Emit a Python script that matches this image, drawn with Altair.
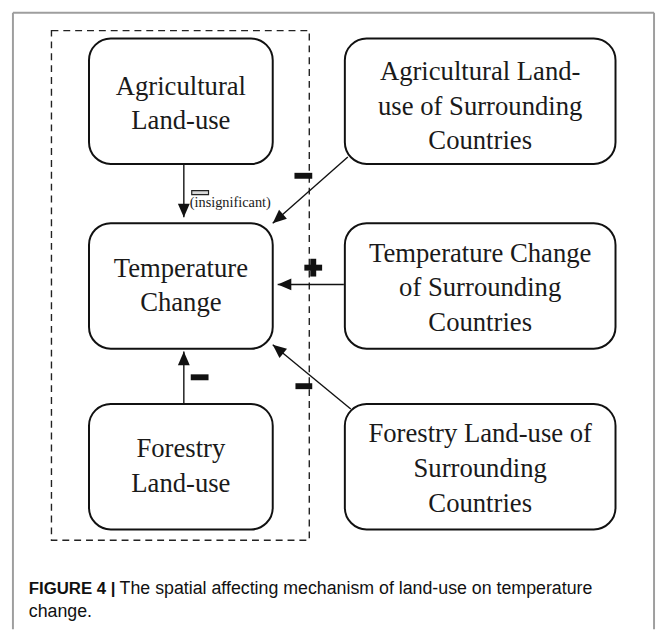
import altair as alt
import pandas as pd
import numpy as np

# ---- Data: boxes (page-pixel coordinates) ----
box_names = ["Agricultural Land-use", "Agricultural Land-use of Surrounding Countries",
             "Temperature Change", "Temperature Change of Surrounding Countries",
             "Forestry Land-use", "Forestry Land-use of Surrounding Countries"]
box_x1 = [90, 349, 90, 349, 90, 349]
box_x2 = [276, 623, 276, 623, 276, 623]
box_y1 = [35, 35, 222, 222, 405, 405]
box_y2 = [162, 162, 349, 349, 532, 532]

# ---- Data: text lines inside boxes ----
label_text = ["Agricultural", "Land-use",
              "Agricultural Land-", "use of Surrounding", "Countries",
              "Temperature", "Change",
              "Temperature Change", "of Surrounding", "Countries",
              "Forestry", "Land-use",
              "Forestry Land-use of", "Surrounding", "Countries"]
label_x = [183, 183,
           486, 486, 486,
           183, 183,
           486, 486, 486,
           183, 183,
           486, 486, 486]
label_y = [84, 119,
           69, 104, 139,
           268, 303,
           253, 288, 323,
           451, 486,
           436, 471, 506]

# ---- Data: arrows (start -> tip) ----
arrow_x1 = [186, 352, 348, 355, 186]
arrow_y1 = [162, 155, 284, 410, 405]
arrow_x2 = [186, 276, 281, 276, 186]
arrow_y2 = [216, 222, 284, 345, 352]

# ---- Data: signs (filled bars) ----
sign_x1 = [298, 193, 299, 308, 314]
sign_x2 = [316, 211, 316, 326, 320]
sign_y1 = [171, 375, 384, 264, 258]
sign_y2 = [177, 381, 390, 270, 276]

# insignificant sign
insig_x1, insig_x2, insig_y1, insig_y2 = [194], [211], [189], [193]

# dashed frame and outer frame
dash_x1, dash_x2, dash_y1, dash_y2 = [52], [313], [27], [543]
frame_x1, frame_x2, frame_y1, frame_y2 = [13], [662], [9], [633]

W, H = 657, 625


def xs(f="x"):
    return alt.X(f"{f}:Q", scale=alt.Scale(domain=[8, 665], nice=False, zero=False), axis=None)


def ys(f="y"):
    return alt.Y(f"{f}:Q", scale=alt.Scale(domain=[8, 633], nice=False, zero=False, reverse=True), axis=None)


frame_df = pd.DataFrame({
    "x": [frame_x1[0], frame_x1[0], frame_x2[0]],
    "x2": [frame_x1[0], frame_x2[0], frame_x2[0]],
    "y": [frame_y1[0], frame_y1[0], frame_y1[0]],
    "y2": [frame_y2[0], frame_y1[0], frame_y2[0]],
})
frame = alt.Chart(frame_df).mark_rule(color="#9e9e9e", strokeWidth=2).encode(
    x=xs("x"), x2="x2:Q", y=ys("y"), y2="y2:Q")

dash_df = pd.DataFrame({"x": dash_x1, "x2": dash_x2, "y": dash_y1, "y2": dash_y2})
dashed = alt.Chart(dash_df).mark_rect(fill=None, fillOpacity=0, stroke="#222", strokeWidth=1.4,
                                      strokeDash=[7, 5]).encode(
    x=xs("x"), x2="x2:Q", y=ys("y"), y2="y2:Q")

box_df = pd.DataFrame({"name": box_names, "x": box_x1, "x2": box_x2, "y": box_y1, "y2": box_y2})
boxes = alt.Chart(box_df).mark_rect(fill="white", stroke="#111", strokeWidth=2, cornerRadius=22).encode(
    x=xs("x"), x2="x2:Q", y=ys("y"), y2="y2:Q")

label_df = pd.DataFrame({"t": label_text, "x": label_x, "y": label_y})
labels = alt.Chart(label_df).mark_text(font="Liberation Serif", fontSize=27, color="#1a1a1a",
                                       baseline="middle", align="center").encode(
    x=xs("x"), y=ys("y"), text="t:N")

arr_df = pd.DataFrame({"x": arrow_x1, "y": arrow_y1, "x2": arrow_x2, "y2": arrow_y2})
dx = np.array(arrow_x2) - np.array(arrow_x1)
dy = np.array(arrow_y2) - np.array(arrow_y1)
arr_df["angle"] = np.mod(np.degrees(np.arctan2(dx, -dy)), 360)
lines = alt.Chart(arr_df).mark_rule(color="#111", strokeWidth=1.4).encode(
    x=xs("x"), y=ys("y"), x2="x2:Q", y2="y2:Q")
heads = alt.Chart(arr_df).mark_point(shape="M0,0L-1,2.3L1,2.3Z", filled=True, fill="#111",
                                     opacity=1, size=144).encode(
    x=xs("x2"), y=ys("y2"), angle=alt.Angle("angle:Q", scale=None))

sign_df = pd.DataFrame({"x": sign_x1, "x2": sign_x2, "y": sign_y1, "y2": sign_y2})
signs = alt.Chart(sign_df).mark_rect(fill="#111").encode(
    x=xs("x"), x2="x2:Q", y=ys("y"), y2="y2:Q")

insig_df = pd.DataFrame({"x": insig_x1, "x2": insig_x2, "y": insig_y1, "y2": insig_y2})
insig = alt.Chart(insig_df).mark_rect(fill="#d8d8d8", stroke="#222", strokeWidth=1.2).encode(
    x=xs("x"), x2="x2:Q", y=ys("y"), y2="y2:Q")

insig_text = alt.Chart(pd.DataFrame({"t": ["(insignificant)"], "x": [192], "y": [202]})).mark_text(
    font="Liberation Serif", fontSize=14.5, color="#1a1a1a", align="left", baseline="middle").encode(
    x=xs("x"), y=ys("y"), text="t:N")

cap_df = pd.DataFrame({
    "t": ["FIGURE 4 |", "The spatial affecting mechanism of land-use on temperature", "change."],
    "x": [29, 121, 29], "y": [597, 597, 621], "w": ["bold", "normal", "normal"]})
cap_bold = alt.Chart(cap_df[cap_df.w == "bold"]).mark_text(
    font="Liberation Sans", fontSize=17, fontWeight="bold", color="#111",
    align="left", baseline="alphabetic").encode(x=xs("x"), y=ys("y"), text="t:N")
cap_reg = alt.Chart(cap_df[cap_df.w == "normal"]).mark_text(
    font="Liberation Sans", fontSize=18, color="#111",
    align="left", baseline="alphabetic").encode(x=xs("x"), y=ys("y"), text="t:N")

chart = alt.layer(frame, dashed, lines, heads, boxes, labels, signs, insig, insig_text,
                  cap_bold, cap_reg).properties(
    width=W, height=H, autosize=alt.AutoSizeParams(type="none"), padding=0,
    background="white"
).configure_view(stroke=None)

chart.save("out.html", embed_options={"renderer": "svg", "actions": False})
